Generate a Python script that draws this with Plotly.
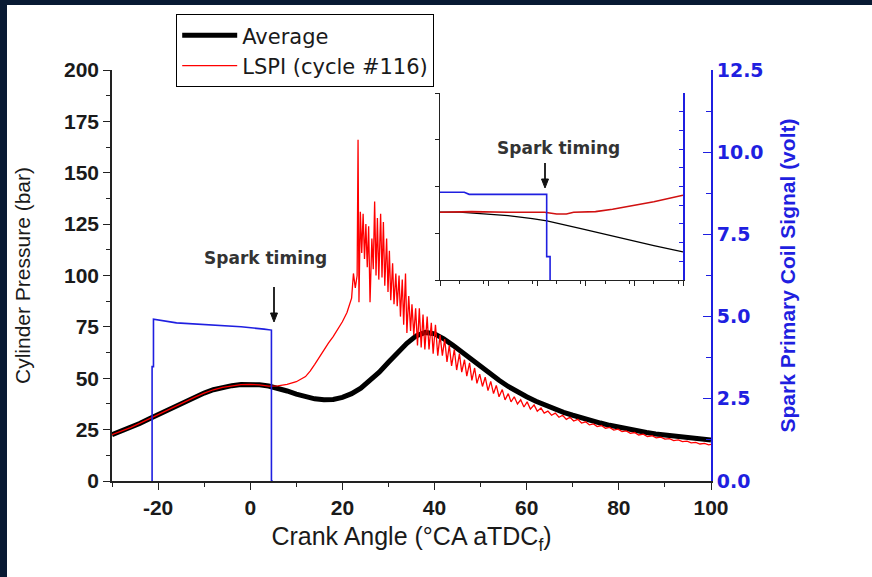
import plotly.graph_objects as go

# ---------------- data ----------------
avg_ca = [-30, -28, -26, -24, -22, -20, -18, -16, -14, -12, -10, -8, -6, -4, -2, 0,
          2, 4, 6, 8, 10, 12, 14, 16, 18, 20, 22, 24, 26, 28, 30, 32, 34, 36, 38, 40,
          42, 44, 46, 48, 50, 52, 54, 56, 58, 60, 62, 64, 66, 68, 70, 72, 74, 76, 78,
          80, 82, 84, 86, 88, 90, 92, 94, 96, 98, 100]
avg_p = [22.5, 24.2, 26.0, 28.0, 30.2, 32.3, 34.5, 36.7, 38.8, 40.8, 42.8, 44.4, 45.6,
         46.4, 46.9, 47.0, 46.8, 46.2, 45.2, 43.8, 42.3, 41.0, 40.0, 39.5, 39.7, 40.7,
         42.5, 45.2, 48.8, 53.0, 57.8, 62.6, 67.0, 70.6, 72.3, 71.6, 69.2, 66.0, 62.5,
         58.9, 55.5, 52.2, 49.0, 46.0, 43.3, 41.0, 38.8, 36.8, 35.0, 33.4, 32.0, 30.6,
         29.4, 28.2, 27.1, 26.1, 25.2, 24.4, 23.6, 22.9, 22.3, 21.7, 21.2, 20.7, 20.3, 19.9]

lspi_ca = [-30, -28, -26, -24, -22, -20, -18, -16, -14, -12, -10, -8, -6, -4, -2, 0,
           2, 4, 6, 8, 10, 12, 13, 14, 15, 16, 17, 18, 19, 20, 21, 22.0,
           22.4, 22.8, 23.2, 23.4, 23.6, 23.9, 24.2, 24.5, 24.8, 25.1, 25.4, 25.7, 26.0,
           26.4, 26.7, 27.0, 27.3, 27.6, 27.9, 28.3, 28.6, 28.9, 29.2, 29.6, 29.9, 30.2,
           30.5, 30.9, 31.2, 31.6, 31.9, 32.3, 32.6, 33.0, 33.3, 33.7, 34.0, 34.4, 34.8,
           35.1, 35.5, 35.9, 36.3, 36.7, 37.1, 37.5, 37.9, 38.4, 38.8, 39.3, 39.7, 40.2,
           40.7, 41.2, 41.7, 42.2, 42.7, 43.2, 43.7, 44.3, 44.8, 45.4, 45.9, 46.5, 47.0,
           47.6, 48.1, 48.7, 49.2, 49.8, 50.4, 51.0, 51.6, 52.2, 52.8, 53.4, 54.0, 54.7,
           55.3, 56.0, 56.6, 57.3, 58.0, 58.7, 59.4, 60.1, 60.8, 61.6, 62.3, 63.1, 63.8,
           64.6, 65.4, 66.2, 67.0, 67.8, 68.6, 69.4, 70.2, 71.1, 71.9, 72.8, 73.6, 74.5,
           75.3, 76.2, 77.1, 78.0, 78.9, 79.8, 80.7, 81.6, 82.5, 83.4, 84.3, 85.3, 86.2,
           87.2, 88.1, 89.1, 90.0, 91.0, 91.9, 92.9, 93.8, 94.8, 95.7, 96.7, 97.6, 98.6,
           99.5, 100]
lspi_p = [22.5, 24.2, 26.0, 28.0, 30.2, 32.3, 34.5, 36.7, 38.8, 40.8, 42.8, 44.4, 45.6,
          46.4, 46.9, 47.0, 46.8, 46.2, 46.3, 47.0, 48.3, 50.8, 53.5, 56.8, 60.5, 64.0,
          67.2, 70.3, 73.6, 77.5, 82.0, 89.0,
          101, 94, 100, 166, 87, 131, 111, 130, 108, 125, 104, 124, 87,
          118, 103, 136, 100, 128, 98, 130, 99, 126, 95, 118, 92, 112,
          88, 106, 86, 101, 85, 100, 80, 98, 76, 101, 72, 90, 73,
          86, 71, 84, 66, 84, 65, 81, 64, 80, 64, 77, 62, 76,
          61, 71, 61, 69, 58, 66, 56, 64, 54, 62, 53, 59, 51,
          57.5, 49, 55, 47.5, 52, 46, 50.5, 44, 48.5, 42.5, 46.5, 41, 44.5,
          39.5, 42.5, 38.5, 41, 37.5, 39.5, 36, 38.5, 35, 37, 34, 35.5, 33,
          34, 32, 33, 31, 32, 30, 31, 29.2, 30, 28.2, 28.8, 27.3, 27.8,
          26.5, 27, 25.7, 26.1, 24.8, 25.2, 24, 24.4, 23.2, 23.6, 22.4, 22.8, 21.6,
          22, 21, 21.3, 20.4, 20.6, 19.7, 20, 19.2, 19.4, 18.6, 18.8, 18, 18.3,
          17.6, 17.8]

spark_ca = [-21.3, -21.3, -21.0, -21.0, -16, -8, -2, 3, 4.6, 4.6, 4.9]
spark_v = [0, 3.48, 3.48, 4.92, 4.81, 4.74, 4.69, 4.62, 4.59, 0, 0]

# inset (zoom around spark timing)
ins_ca = [0.2, 1.0, 2.0, 3.0, 4.0, 4.6, 6.0, 7.0, 8.0, 9.0, 10.2]
ins_avg = [47.0, 47.0, 46.85, 46.7, 46.45, 46.25, 45.6, 45.1, 44.65, 44.15, 43.6]
ins_lspi_ca = [0.2, 1.5, 3.0, 4.5, 5.0, 5.4, 5.7, 6.6, 7.3, 8.0, 9.0, 10.2]
ins_lspi = [47.0, 47.05, 47.0, 47.0, 46.85, 46.85, 47.0, 47.05, 47.25, 47.5, 47.9, 48.45]
ins_spark_ca = [0.2, 1.2, 1.4, 4.59, 4.59, 4.73, 4.73]
ins_spark_v = [4.69, 4.69, 4.58, 4.58, 1.25, 1.25, 0]

x_ticks = [-20, 0, 20, 40, 60, 80, 100]
x_tick_labels = ["-20", "0", "20", "40", "60", "80", "100"]
yl_ticks = [0, 25, 50, 75, 100, 125, 150, 175, 200]
yr_ticks = [0, 2.5, 5, 7.5, 10, 12.5]

# ---------------- figure ----------------
W, H = 872, 577
L, R, T, B = 112, 711, 70, 481
BLUE = "#1f1fe0"
FONT = "Liberation Sans, Arial, sans-serif"
WIDE = "DejaVu Sans, Verdana, sans-serif"

def px(xp):
    return (xp - L) / (R - L)

def py(yp):
    return (B - yp) / (B - T)

fig = go.Figure()
fig.add_trace(go.Scatter(x=avg_ca, y=avg_p, mode="lines", name="Average",
                         line=dict(color="black", width=5), xaxis="x", yaxis="y"))
fig.add_trace(go.Scatter(x=lspi_ca, y=lspi_p, mode="lines", name="LSPI (cycle #116)",
                         line=dict(color="#ff0000", width=1.3), xaxis="x", yaxis="y"))
fig.add_trace(go.Scatter(x=spark_ca, y=spark_v, mode="lines", showlegend=False,
                         line=dict(color=BLUE, width=1.6), xaxis="x", yaxis="y3"))
# inset traces
fig.add_trace(go.Scatter(x=ins_ca, y=ins_avg, mode="lines", showlegend=False,
                         line=dict(color="black", width=1.3), xaxis="x2", yaxis="y2"))
fig.add_trace(go.Scatter(x=ins_lspi_ca, y=ins_lspi, mode="lines", showlegend=False,
                         line=dict(color="#d01010", width=1.6), xaxis="x2", yaxis="y2"))
fig.add_trace(go.Scatter(x=ins_spark_ca, y=ins_spark_v, mode="lines", showlegend=False,
                         line=dict(color=BLUE, width=1.6), xaxis="x2", yaxis="y4"))

tickfont = dict(family=FONT, size=21, color="#1a1a1a", weight="bold")

fig.update_layout(
    width=W, height=H,
    margin=dict(l=L, r=W - R, t=T, b=H - B),
    paper_bgcolor="#081a33",
    plot_bgcolor="white",
    xaxis=dict(domain=[0, 1], range=[-30, 100], tickvals=x_ticks, ticktext=x_tick_labels,
               ticks="outside",
               ticklen=7, tickwidth=1.3, tickcolor="#222", showline=True, linecolor="#222",
               linewidth=1.5, showgrid=False, zeroline=False, tickfont=tickfont,
               minor=dict(dtick=10, tick0=0, ticks="outside", ticklen=4, tickcolor="#222"),
               title=dict(text="Crank Angle (°CA aTDC<sub>f</sub>)",
                          font=dict(family=FONT, size=25, color="#1a1a1a"), standoff=10),
               anchor="y"),
    yaxis=dict(domain=[0, 1], range=[0, 200], tickvals=yl_ticks, ticks="outside",
               ticklen=7, tickwidth=1.3, tickcolor="#222", showline=True, linecolor="#222",
               linewidth=1.5, showgrid=False, zeroline=False, tickfont=tickfont,
               minor=dict(dtick=12.5, tick0=0, ticks="outside", ticklen=4, tickcolor="#222"),
               title=dict(text="Cylinder Pressure (bar)",
                          font=dict(family=FONT, size=21, color="#1a1a1a"), standoff=28),
               anchor="x"),
    yaxis3=dict(domain=[0, 1], range=[0, 12.5], tickvals=yr_ticks, tickformat=".1f",
                overlaying="y", side="right", anchor="x", ticks="inside", ticklen=8,
                tickwidth=1.3, tickcolor=BLUE, showline=True, linecolor=BLUE, linewidth=1.8,
                showgrid=False, zeroline=False,
                tickfont=dict(family=WIDE, size=19, color=BLUE, weight="bold"),
                minor=dict(dtick=1.25, tick0=0, ticks="inside", ticklen=5, tickcolor=BLUE),
                title=dict(text="Spark Primary Coil Signal (volt)",
                           font=dict(family=FONT, size=21, color=BLUE, weight="bold"),
                           standoff=18)),
    # inset axes
    xaxis2=dict(domain=[px(440), px(683)], range=[0.2, 10.2], tick0=0.2, dtick=2,
                ticks="outside", ticklen=5, tickcolor="#222", showticklabels=False,
                showline=True, linecolor="#222", linewidth=1.3, showgrid=False,
                zeroline=False, anchor="y2",
                minor=dict(dtick=1, ticks="outside", ticklen=3, tickcolor="#222")),
    yaxis2=dict(domain=[py(280), py(93)], range=[41.2, 57.2], dtick=4, tick0=41.2,
                ticks="outside", ticklen=4, tickcolor="#222", showticklabels=False,
                showline=True, linecolor="#222", linewidth=1.3, showgrid=False,
                zeroline=False, anchor="x2"),
    yaxis4=dict(domain=[py(280), py(93)], range=[0, 10], dtick=1, overlaying="y2",
                side="right", anchor="x2", ticks="inside", ticklen=4, tickcolor=BLUE,
                showticklabels=False, showline=True, linecolor=BLUE, linewidth=1.5,
                showgrid=False, zeroline=False),
    legend=dict(x=px(176), y=py(14), xanchor="left", yanchor="top",
                bgcolor="white", bordercolor="black", borderwidth=1.2,
                font=dict(family=WIDE, size=21, color="#1a1a1a"),
                itemwidth=55, tracegroupgap=0),
    showlegend=True,
)

# white slide area
fig.add_shape(type="rect", xref="paper", yref="paper", layer="below",
              x0=px(7), x1=px(W + 5), y0=py(H + 5), y1=py(5),
              fillcolor="white", line=dict(width=0))

# "Spark timing" arrows (pixel-placed decorations)
for ax_px, y_top, y_head in [(274, 287, 322), (545, 163, 188)]:
    fig.add_shape(type="line", xref="paper", yref="paper",
                  x0=px(ax_px), x1=px(ax_px), y0=py(y_top), y1=py(y_head - 6),
                  line=dict(color="#111", width=1.8))
    fig.add_shape(type="path", xref="paper", yref="paper",
                  path=(f"M {px(ax_px - 3.5)} {py(y_head - 9)} L {px(ax_px + 3.5)} {py(y_head - 9)} "
                        f"L {px(ax_px)} {py(y_head)} Z"),
                  fillcolor="#111", line=dict(color="#111", width=1))

fig.add_annotation(x=px(265), y=py(258), xref="paper", yref="paper", text="Spark timing",
                   xanchor="center", yanchor="middle", showarrow=False,
                   font=dict(family=WIDE, size=17, color="#333", weight="bold"))
fig.add_annotation(x=px(558), y=py(148), xref="paper", yref="paper", text="Spark timing",
                   xanchor="center", yanchor="middle", showarrow=False,
                   font=dict(family=WIDE, size=17, color="#333", weight="bold"))

fig.write_html("out.html")
